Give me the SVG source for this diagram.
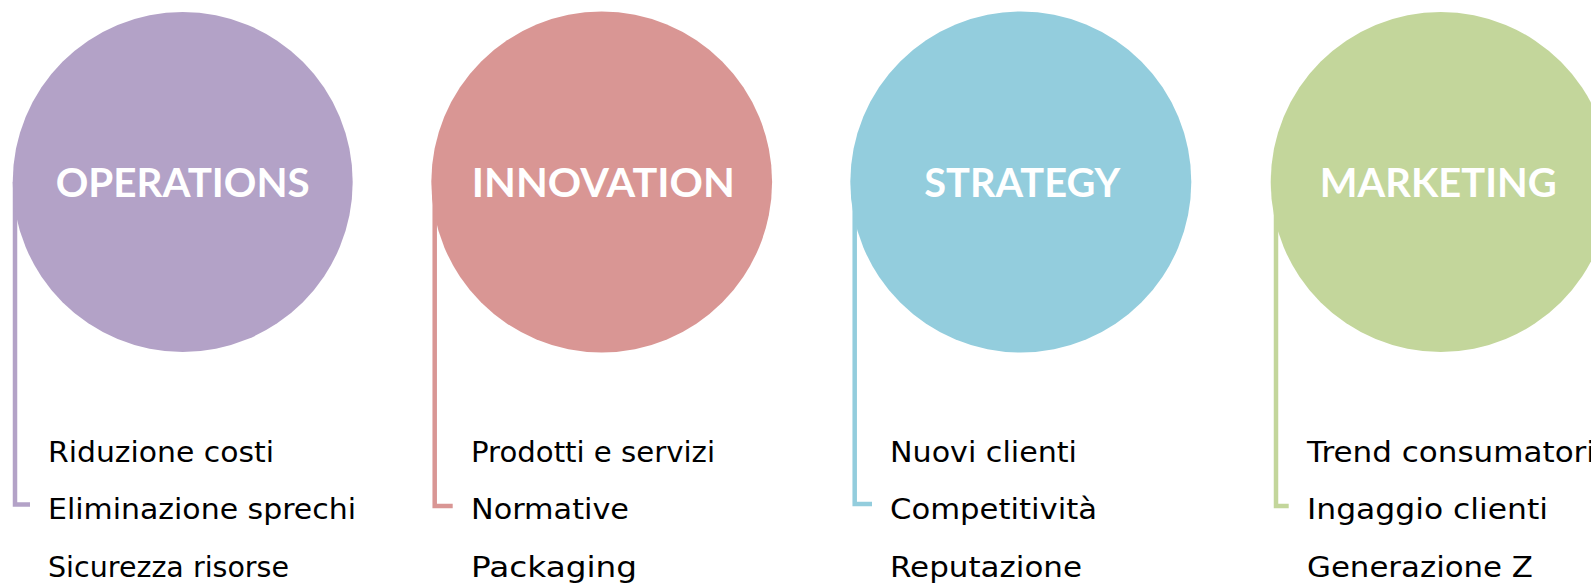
<svg xmlns="http://www.w3.org/2000/svg" width="1591" height="583" viewBox="0 0 1591 583">
<style>
.title{font-family:Lato,"DejaVu Sans","Liberation Sans",sans-serif;font-weight:bold;font-size:40.5px;fill:#ffffff;text-anchor:middle}
.item{font-family:"DejaVu Sans","Liberation Sans",sans-serif;font-size:28px;fill:#000000}
.br{fill:none;stroke-width:4.5;stroke-linejoin:miter}
</style>
<rect width="1591" height="583" fill="#ffffff"/>
<g id="connectors">
<path class="br" stroke="#B3A2C7" d="M15,182 V504.5 H30"/>
<path class="br" stroke="#D99694" d="M434.7,182 V506 H452.7"/>
<path class="br" stroke="#93CDDD" d="M854.7,182 V504 H872"/>
<path class="br" stroke="#C3D69B" d="M1276,182 V506 H1288.7"/>
</g>
<g id="operations">
<circle cx="182.7" cy="182" r="170" fill="#B3A2C7"/>
<text class="title" x="182.7" y="197" textLength="254" lengthAdjust="spacingAndGlyphs">OPERATIONS</text>
<text class="item" x="48" y="462" textLength="226" lengthAdjust="spacingAndGlyphs">Riduzione costi</text>
<text class="item" x="48" y="519" textLength="308" lengthAdjust="spacingAndGlyphs">Eliminazione sprechi</text>
<text class="item" x="48" y="576.5" textLength="241" lengthAdjust="spacingAndGlyphs">Sicurezza risorse</text>
</g>
<g id="innovation">
<circle cx="601.7" cy="182" r="170.4" fill="#D99694"/>
<text class="title" x="603.3" y="197" textLength="263" lengthAdjust="spacingAndGlyphs">INNOVATION</text>
<text class="item" x="471" y="462" textLength="244" lengthAdjust="spacingAndGlyphs">Prodotti e servizi</text>
<text class="item" x="471" y="519" textLength="158" lengthAdjust="spacingAndGlyphs">Normative</text>
<text class="item" x="471" y="576.5" textLength="166" lengthAdjust="spacingAndGlyphs">Packaging</text>
</g>
<g id="strategy">
<circle cx="1020.8" cy="182" r="170.5" fill="#93CDDD"/>
<text class="title" x="1022.3" y="197" textLength="196" lengthAdjust="spacingAndGlyphs">STRATEGY</text>
<text class="item" x="890" y="462" textLength="187" lengthAdjust="spacingAndGlyphs">Nuovi clienti</text>
<text class="item" x="890" y="519" textLength="207" lengthAdjust="spacingAndGlyphs">Competitività</text>
<text class="item" x="890" y="576.5" textLength="192" lengthAdjust="spacingAndGlyphs">Reputazione</text>
</g>
<g id="marketing">
<circle cx="1440.7" cy="182" r="170" fill="#C3D69B"/>
<text class="title" x="1438.3" y="197" textLength="237" lengthAdjust="spacingAndGlyphs">MARKETING</text>
<text class="item" x="1307" y="462" textLength="288" lengthAdjust="spacingAndGlyphs">Trend consumatori</text>
<text class="item" x="1307" y="519" textLength="241" lengthAdjust="spacingAndGlyphs">Ingaggio clienti</text>
<text class="item" x="1307" y="576.5" textLength="226" lengthAdjust="spacingAndGlyphs">Generazione Z</text>
</g>
</svg>
